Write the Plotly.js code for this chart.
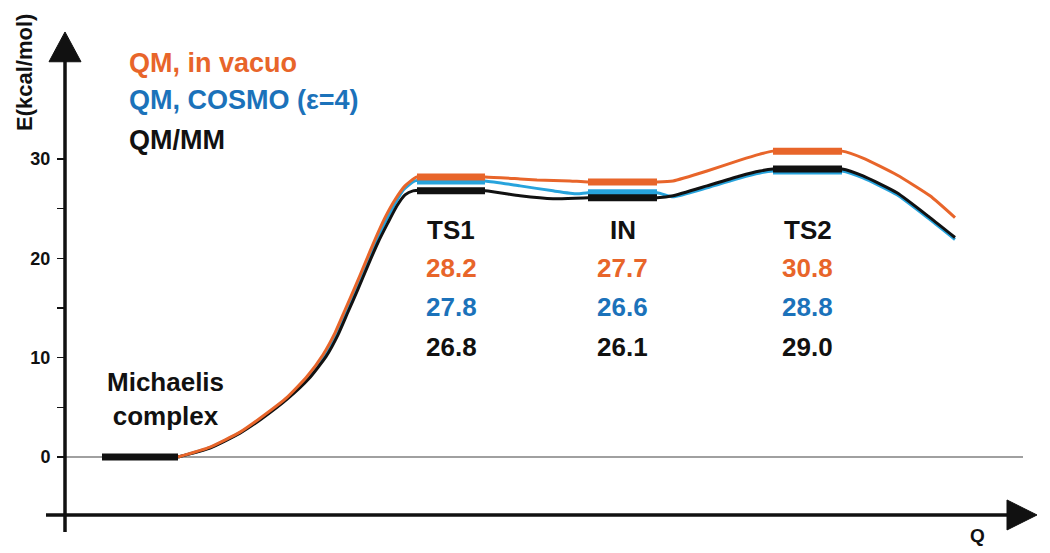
<!DOCTYPE html>
<html>
<head>
<meta charset="utf-8">
<script src="https://cdn.plot.ly/plotly-3.0.1.min.js"></script>
<style>html,body{margin:0;padding:0;background:#fff;}#chart{width:1050px;height:553px;}</style>
</head>
<body>
<div id="chart"></div>
<script>
// ---- data ----
const stateNames = ['Michaelis<br>complex', 'TS1', 'IN', 'TS2'];
const plateauStart = [1.02, 4.17, 5.88, 7.73];
const plateauEnd   = [1.78, 4.85, 6.57, 8.42];
const eVacuo = [0, 28.2, 27.7, 30.8];
const eCosmo = [0, 27.8, 26.6, 28.8];
const eQmmm  = [0, 26.8, 26.1, 29.0];
const seriesNames = ['QM, in vacuo', 'QM, COSMO (\u03b5=4)', 'QM/MM'];

// connecting path (reaction coordinate Q, energy) between states
const qVacuo = [1.78, 2.10, 2.40, 2.60, 2.87, 3.07, 3.23, 3.35, 3.45, 3.55, 3.65, 3.75, 3.85, 3.95, 4.05, 4.17,
                4.85, 5.20, 5.37, 5.70, 5.88,
                6.57, 6.73, 7.07, 7.40, 7.60, 7.73,
                8.42, 8.63, 8.97, 9.30, 9.55];
const yVacuo = [0, 1.0, 2.5, 3.9, 6.0, 8.1, 10.3, 12.5, 14.8, 17.1, 19.5, 21.9, 24.1, 25.9, 27.3, 28.2,
                28.2, 28.0, 27.9, 27.8, 27.7,
                27.7, 27.8, 28.8, 29.9, 30.5, 30.8,
                30.8, 30.1, 28.4, 26.3, 24.1];
const qCosmo = [1.78, 2.10, 2.40, 2.605, 2.875, 3.08, 3.25, 3.365, 3.465, 3.565, 3.665, 3.765, 3.865, 3.955, 4.035, 4.15,
                4.85, 5.20, 5.53, 5.77, 5.88,
                6.57, 6.73, 7.07, 7.40, 7.60, 7.73,
                8.42, 8.63, 8.97, 9.30, 9.55];
const yCosmo = [0, 0.95, 2.45, 3.85, 5.95, 8.0, 10.2, 12.4, 14.7, 17.0, 19.4, 21.8, 23.9, 25.6, 26.9, 27.8,
                27.8, 27.3, 26.8, 26.5, 26.6,
                26.6, 26.2, 27.1, 28.1, 28.6, 28.8,
                28.8, 28.1, 26.4, 23.9, 21.9];
const qQmmm  = [1.78, 2.10, 2.40, 2.61, 2.88, 3.09, 3.26, 3.38, 3.48, 3.58, 3.68, 3.78, 3.88, 3.97, 4.05, 4.13,
                4.85, 5.20, 5.53, 5.88,
                6.57, 6.73, 7.07, 7.40, 7.60, 7.73,
                8.42, 8.63, 8.97, 9.30, 9.55];
const yQmmm  = [0, 0.9, 2.4, 3.8, 5.9, 7.9, 10.1, 12.3, 14.6, 16.9, 19.3, 21.6, 23.6, 25.3, 26.4, 26.8,
                26.8, 26.3, 26.0, 26.1,
                26.1, 26.3, 27.3, 28.3, 28.8, 29.0,
                29.0, 28.3, 26.6, 24.1, 22.1];

const yTicks = [0, 10, 20, 30];
const yMinorTicks = [5, 15, 25];

// ---- style ----
const cOrange = '#E8652A', cBlueLine = '#27A3DC', cBlueText = '#1B72BA', cBlack = '#111111';
const FONT = 'Liberation Sans, Arial, Helvetica, sans-serif';

function thin(q, y, color) {
  return {x: q, y: y, type: 'scatter', mode: 'lines', line: {color: color, width: 3, shape: 'spline', smoothing: 0.5}, hoverinfo: 'skip'};
}
function plateaus(vals, color, skipFirst) {
  const xs = [], ys = [];
  for (let i = skipFirst ? 1 : 0; i < vals.length; i++) {
    xs.push(plateauStart[i], plateauEnd[i], null);
    ys.push(vals[i], vals[i], null);
  }
  return {x: xs, y: ys, type: 'scatter', mode: 'lines', line: {color: color, width: 7}, hoverinfo: 'skip'};
}

const traces = [
  thin(qCosmo, yCosmo, cBlueLine),
  thin(qQmmm, yQmmm, cBlack),
  thin(qVacuo, yVacuo, cOrange),
  plateaus(eCosmo, cBlueLine, true),
  plateaus(eVacuo, cOrange, true),
  plateaus(eQmmm, cBlack, false)
];

const ann = [];
const big = (color) => ({family: FONT, size: 26, color: color, weight: 'bold'});
// state labels and values
const labelRowsY = [22.9, 19.0, 15.1, 11.1];
for (let i = 1; i < stateNames.length; i++) {
  const xc = (plateauStart[i] + plateauEnd[i]) / 2;
  ann.push({x: xc, y: labelRowsY[0], text: stateNames[i], font: big(cBlack)});
  ann.push({x: xc, y: labelRowsY[1], text: eVacuo[i].toFixed(1), font: big(cOrange)});
  ann.push({x: xc, y: labelRowsY[2], text: eCosmo[i].toFixed(1), font: big(cBlueText)});
  ann.push({x: xc, y: labelRowsY[3], text: eQmmm[i].toFixed(1), font: big(cBlack)});
}
ann.push({x: 1.65, y: 5.8, text: stateNames[0], font: big(cBlack)});
ann.forEach(a => { a.xref = 'x'; a.yref = 'y'; a.showarrow = false; a.xanchor = 'center'; a.yanchor = 'middle'; });

// legend-like colored labels
const legendColors = [cOrange, cBlueText, cBlack];
const legendY = [63, 100, 140];
seriesNames.forEach((n, i) => {
  ann.push({xref: 'paper', yref: 'paper', x: 127 / 1050, y: 1 - legendY[i] / 553, xanchor: 'left', yanchor: 'middle',
            text: n, showarrow: false, font: {family: FONT, size: 27, color: legendColors[i], weight: 'bold'}});
});
// axis titles
ann.push({xref: 'paper', yref: 'paper', x: 24 / 1050, y: 1 - 73 / 553, xanchor: 'center', yanchor: 'middle',
          text: 'E(kcal/mol)', textangle: -90, showarrow: false, font: {family: FONT, size: 22, color: cBlack, weight: 'bold'}});
ann.push({xref: 'paper', yref: 'paper', x: 977 / 1050, y: 1 - 535 / 553, xanchor: 'center', yanchor: 'middle',
          text: 'Q', showarrow: false, font: {family: FONT, size: 19, color: cBlack, weight: 'bold'}});

const shapes = [
  // zero reference line
  {type: 'line', xref: 'x', yref: 'y', x0: 0.65, x1: 10.23, y0: 0, y1: 0, line: {color: '#808080', width: 1.5}, layer: 'below'},
  // y axis
  {type: 'line', xref: 'x', yref: 'y', x0: 0.65, x1: 0.65, y0: -7.55, y1: 40.5, line: {color: cBlack, width: 3.5}},
  {type: 'path', xref: 'x', yref: 'y', path: 'M 0.65 42.8 L 0.49 39.8 L 0.81 39.8 Z', fillcolor: cBlack, line: {color: cBlack, width: 1}},
  // x axis
  {type: 'line', xref: 'x', yref: 'y', x0: 0.46, x1: 10.1, y0: -5.84, y1: -5.84, line: {color: cBlack, width: 3.5}},
  {type: 'path', xref: 'x', yref: 'y', path: 'M 10.37 -5.84 L 10.07 -4.33 L 10.07 -7.35 Z', fillcolor: cBlack, line: {color: cBlack, width: 1}}
];

const layout = {
  width: 1050, height: 553,
  margin: {l: 0, r: 0, t: 0, b: 0, pad: 0},
  paper_bgcolor: '#fff', plot_bgcolor: '#fff',
  showlegend: false,
  xaxis: {range: [0, 10.5], visible: false, fixedrange: true},
  yaxis: {
    range: [-9.67, 46.02], anchor: 'free', position: 65 / 1050, automargin: false,
    showgrid: false, zeroline: false, showline: false,
    tickmode: 'array', tickvals: yTicks, ticktext: yTicks.map(String),
    ticks: 'outside', ticklen: 8, tickwidth: 1.5, tickcolor: cBlack,
    ticklabelstandoff: 3,
    tickfont: {family: FONT, size: 18, color: cBlack, weight: 'bold'},
    minor: {tickmode: 'array', tickvals: yMinorTicks, ticks: 'outside', ticklen: 8, tickwidth: 1.5, tickcolor: cBlack, showgrid: false},
    fixedrange: true
  },
  annotations: ann,
  shapes: shapes
};

Plotly.newPlot('chart', traces, layout, {displayModeBar: false, staticPlot: true});
</script>
</body>
</html>
